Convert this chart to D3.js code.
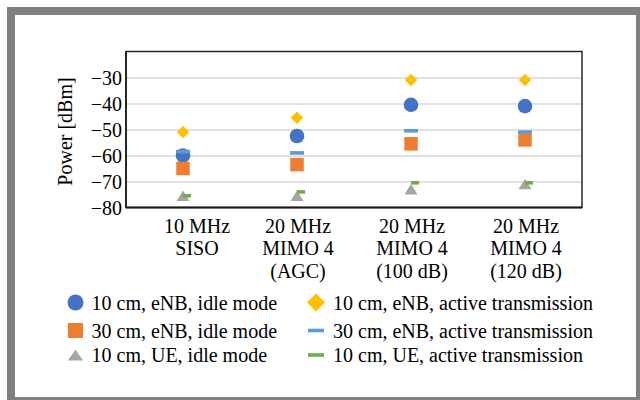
<!DOCTYPE html>
<html>
<head>
<meta charset="utf-8">
<script src="https://cdn.jsdelivr.net/npm/d3@7/dist/d3.min.js"></script>
<style>
  html, body { margin: 0; padding: 0; background: #fff; }
  svg { display: block; }
  text { font-family: "Liberation Serif", "Times New Roman", serif; fill: #000; }
</style>
</head>
<body>
<svg id="chart" width="640" height="400"></svg>
<script>
// Measured received power per configuration (dBm)
const categories = [
  ["10 MHz", "SISO"],
  ["20 MHz", "MIMO 4", "(AGC)"],
  ["20 MHz", "MIMO 4", "(100 dB)"],
  ["20 MHz", "MIMO 4", "(120 dB)"]
];
const eNB10Idle   = [-60, -52.5, -40.5, -41];
const eNB30Idle   = [-65, -63.5, -55.5, -54];
const ue10Idle    = [-75.5, -75.5, -73, -71];
const eNB10Active = [-51, -45.5, -31, -31];
const eNB30Active = [-58.5, -59, -50.5, -51];
const ue10Active  = [-75.5, -74, -70.5, -70.5];
const yTicks = [-80, -70, -60, -50, -40, -30];
const seriesNames = [
  "10 cm, eNB, idle mode",
  "30 cm, eNB, idle mode",
  "10 cm, UE, idle mode",
  "10 cm, eNB, active transmission",
  "30 cm, eNB, active transmission",
  "10 cm, UE, active transmission"
];

const svg = d3.select("#chart");

// grey frame around the figure
const frame = "#808080";
svg.append("rect").attr("x", 7).attr("y", 7).attr("width", 8).attr("height", 400).attr("fill", frame);
svg.append("rect").attr("x", 7).attr("y", 7).attr("width", 640).attr("height", 8).attr("fill", frame);
svg.append("rect").attr("x", 636).attr("y", 7).attr("width", 10).attr("height", 400).attr("fill", frame);
svg.append("rect").attr("x", 7).attr("y", 397).attr("width", 640).attr("height", 10).attr("fill", frame);

const plot = { left: 126, right: 582, top: 51.5, bottom: 207.5 };

const x = d3.scaleBand()
  .domain(d3.range(categories.length))
  .range([plot.left, plot.right])
  .padding(0);
const y = d3.scaleLinear().domain([-80, -20]).range([plot.bottom, plot.top]);
const cx = i => x(i) + x.bandwidth() / 2;
const minus = v => (v < 0 ? "\u2212" + Math.abs(v) : String(v));

// horizontal gridlines
svg.append("g")
  .attr("transform", `translate(${plot.left},0)`)
  .call(d3.axisLeft(y).tickValues(yTicks.filter(t => t > -80)).tickSize(-(plot.right - plot.left)).tickFormat(""))
  .call(g => g.select(".domain").remove())
  .call(g => g.selectAll("line").attr("stroke", "#d9d9d9").attr("stroke-width", 1.6));

// y tick labels
svg.append("g")
  .attr("transform", `translate(${plot.left - 4},0)`)
  .call(d3.axisLeft(y).tickValues(yTicks).tickSize(0).tickPadding(0).tickFormat(minus))
  .call(g => g.select(".domain").remove())
  .call(g => g.attr("font-family", "Liberation Serif, serif"))
  .call(g => g.selectAll("text")
    .attr("font-size", 20)
    .attr("fill", "#000")
    .attr("dy", "0.34em"));

// y axis title
svg.append("text")
  .attr("transform", `translate(65,${(plot.top + plot.bottom) / 2 + 2}) rotate(-90)`)
  .attr("text-anchor", "middle")
  .attr("dy", "0.34em")
  .attr("font-size", 20)
  .text("Power [dBm]");

// category labels (multi-line)
const catG = svg.append("g");
categories.forEach((lines, i) => {
  const lx = cx(i) + (i === 0 ? 14 : 1);
  const t = catG.append("text")
    .attr("x", lx)
    .attr("y", 232.5)
    .attr("text-anchor", "middle")
    .attr("font-size", 20);
  lines.forEach((ln, k) => {
    t.append("tspan").attr("x", lx).attr("dy", k === 0 ? 0 : 22.5).text(ln);
  });
});

// marker shapes
const dashType = (w, h, dx) => ({
  draw(ctx) {
    ctx.moveTo(-w / 2 + dx, -h / 2);
    ctx.lineTo(w / 2 + dx, -h / 2);
    ctx.lineTo(w / 2 + dx, h / 2);
    ctx.lineTo(-w / 2 + dx, h / 2);
    ctx.closePath();
  }
});
const triType = (w, h) => ({
  draw(ctx) {
    ctx.moveTo(0, -h / 2);
    ctx.lineTo(w / 2, h / 2);
    ctx.lineTo(-w / 2, h / 2);
    ctx.closePath();
  }
});
const diamondType = (d) => ({
  draw(ctx) {
    ctx.moveTo(0, -d / 2);
    ctx.lineTo(d / 2, 0);
    ctx.lineTo(0, d / 2);
    ctx.lineTo(-d / 2, 0);
    ctx.closePath();
  }
});
const squareType = (s) => dashType(s, s, 0);

// listed in drawing order (dashes on top)
const series = [
  { name: seriesNames[3], values: eNB10Active, color: "#ffc000",
    plotSym: d3.symbol(diamondType(12.5)), legSym: d3.symbol(diamondType(18)) },
  { name: seriesNames[0], values: eNB10Idle, color: "#4472c4",
    plotSym: d3.symbol(d3.symbolCircle, Math.PI * 7.3 * 7.3), legSym: d3.symbol(d3.symbolCircle, Math.PI * 8 * 8) },
  { name: seriesNames[1], values: eNB30Idle, color: "#ed7d31",
    plotSym: d3.symbol(squareType(13.5)), legSym: d3.symbol(squareType(15)) },
  { name: seriesNames[2], values: ue10Idle, color: "#a5a5a5",
    plotSym: d3.symbol(triType(13, 10.5)), legSym: d3.symbol(triType(15, 11)) },
  { name: seriesNames[4], values: eNB30Active, color: "#5b9bd5",
    plotSym: d3.symbol(dashType(14, 3.6, 0)), legSym: d3.symbol(dashType(16, 3.6, 0)) },
  { name: seriesNames[5], values: ue10Active, color: "#70ad47",
    plotSym: d3.symbol(dashType(8, 3.6, 4)), legSym: d3.symbol(dashType(16, 3.6, 0)) }
];

// points
series.forEach(s => {
  svg.append("g").selectAll("path")
    .data(s.values)
    .join("path")
    .attr("transform", (v, i) => `translate(${cx(i)},${y(v)})`)
    .attr("d", s.plotSym())
    .attr("fill", s.color);
});

// plot frame and axes
svg.append("rect")
  .attr("x", plot.left).attr("y", plot.top)
  .attr("width", plot.right - plot.left).attr("height", plot.bottom - plot.top)
  .attr("fill", "none").attr("stroke", "#1a1a1a").attr("stroke-width", 1.4);
svg.append("line")
  .attr("x1", plot.left).attr("x2", plot.right).attr("y1", plot.bottom).attr("y2", plot.bottom)
  .attr("stroke", "#1a1a1a").attr("stroke-width", 2);
svg.append("line")
  .attr("x1", plot.left).attr("x2", plot.left).attr("y1", plot.top).attr("y2", plot.bottom)
  .attr("stroke", "#1a1a1a").attr("stroke-width", 1.6);

// legend: two columns, three rows
const legendOrder = [1, 2, 3, 0, 4, 5]; // indices into series, column-major
const rowsY = [302.5, 330.5, 355];
const colX = [{ m: 75.5, t: 91.5 }, { m: 316, t: 333 }];
legendOrder.forEach((si, k) => {
  const s = series[si];
  const col = Math.floor(k / 3), row = k % 3;
  const g = svg.append("g");
  g.append("path")
    .attr("transform", `translate(${colX[col].m},${rowsY[row]})`)
    .attr("d", s.legSym())
    .attr("fill", s.color);
  g.append("text")
    .attr("x", colX[col].t)
    .attr("y", rowsY[row] + 7)
    .attr("font-size", 20)
    .text(s.name);
});
</script>
</body>
</html>
